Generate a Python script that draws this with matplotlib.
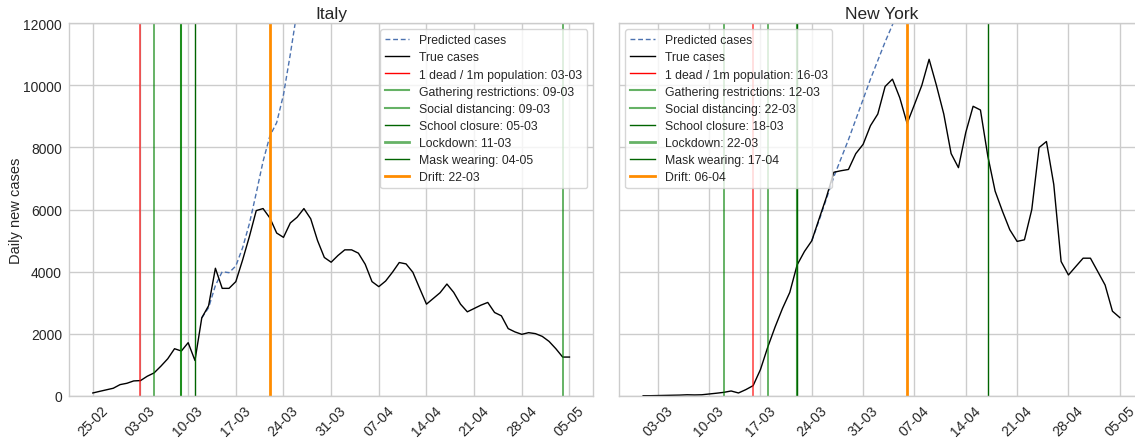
import numpy as np
import pandas as pd
import matplotlib
matplotlib.use("Agg")
import matplotlib.pyplot as plt
import matplotlib.dates as mdates
from matplotlib.lines import Line2D

plt.rcParams['font.family'] = ['Liberation Sans', 'DejaVu Sans']

# ---------------- data ----------------
italy_start = "2020-02-25"
italy_true = [88, 140, 190, 240, 357, 400, 476, 487, 628, 735, 953, 1190, 1514, 1440,
              1708, 1135, 2509, 2898, 4107, 3459, 3459, 3676, 4376, 5134, 5965, 6030,
              5728, 5242, 5102, 5566, 5750, 6030, 5700, 5000, 4454, 4301, 4518, 4700,
              4700, 4593, 4236, 3676, 3514, 3695, 3977, 4291, 4247, 3977, 3459, 2950,
              3134, 3319, 3598, 3329, 2950, 2703, 2810, 2918, 3005, 2681, 2574, 2162,
              2055, 1977, 2032, 2000, 1912, 1750, 1514, 1245, 1245]
italy_pred_start = "2020-03-12"
italy_pred = [2509, 2836, 3550, 3996, 3964, 4180, 4770, 5550, 6530, 7550, 8369, 8800,
              9700, 11000, 12400]

ny_start = "2020-03-01"
ny_true = [0, 0, 5, 10, 15, 20, 30, 25, 30, 55, 80, 108, 152, 88, 195, 324, 843, 1569,
           2217, 2810, 3329, 4214, 4648, 4992, 5700, 6400, 7200, 7250, 7290, 7800, 8100,
           8700, 9076, 9964, 10200, 9600, 8775, 9381, 9997, 10840, 9997, 9076, 7802,
           7348, 8483, 9326, 9206, 7727, 6593, 5945, 5348, 4972, 5024, 5997, 7997, 8191,
           6807, 4324, 3890, 4162, 4431, 4431, 4000, 3566, 2723, 2518]
ny_pred_start = "2020-03-24"
ny_pred = [4992, 5650, 6350, 7050, 7650, 8250, 8900, 9550, 10200, 10800, 11400, 11950, 12600]

measures = ["1 dead / 1m population", "Gathering restrictions", "Social distancing",
            "School closure", "Lockdown", "Mask wearing", "Drift"]
italy_dates = ["03-03", "09-03", "09-03", "05-03", "11-03", "04-05", "22-03"]
ny_dates = ["16-03", "12-03", "22-03", "18-03", "22-03", "17-04", "06-04"]

tick_start = "2020-02-25"
tick_end = "2020-05-05"

# legend styles (color, alpha, lw)
legend_styles = [("red", 1.0, 1.0), ("green", 0.6, 1.5), ("green", 0.6, 1.5),
                 ("darkgreen", 1.0, 1.0), ("green", 0.6, 2.0), ("darkgreen", 1.0, 1.0),
                 ("darkorange", 1.0, 2.0)]
# drawn styles per panel (color, alpha, lw)
italy_line_styles = [("red", 0.7, 1.2), ("green", 0.7, 1.2), ("green", 0.7, 1.5),
                     ("green", 0.7, 1.2), ("darkgreen", 1.0, 1.0), ("green", 0.7, 1.2),
                     ("darkorange", 1.0, 2.0)]
ny_line_styles = [("red", 0.7, 1.2), ("green", 0.7, 1.2), ("green", 0.7, 1.5),
                  ("green", 0.7, 1.2), ("darkgreen", 1.0, 1.0), ("darkgreen", 1.0, 1.0),
                  ("darkorange", 1.0, 2.0)]

GRID = "#cccccc"
TXT = "#262626"
PRED_C = "#4c72b0"


def to_date(s):
    d, m = s.split("-")
    return pd.Timestamp(2020, int(m), int(d))


fig = plt.figure(figsize=(11.35, 4.39), dpi=100)
ax1 = fig.add_axes([69 / 1135, 42.3 / 439, 524.3 / 1135, 372.4 / 439])
ax2 = fig.add_axes([619.3 / 1135, 42.3 / 439, 524.3 / 1135, 372.4 / 439], sharey=ax1)

ticks = pd.date_range(tick_start, tick_end, freq="7D")


def panel(ax, title, start, true, pstart, pred, dates, styles, legloc):
    x = pd.date_range(start, periods=len(true), freq="D")
    xp = pd.date_range(pstart, periods=len(pred), freq="D")
    for sp in ax.spines.values():
        sp.set_color(GRID)
        sp.set_linewidth(1.0)
    ax.set_facecolor("white")
    ax.grid(True, color=GRID, linewidth=1.0)
    ax.set_axisbelow(True)
    ax.plot(xp, pred, color=PRED_C, lw=1.0, ls=(0, (3.5, 2)))
    ax.plot(x, true, color="black", lw=1.0)
    for dstr, (c, a, lw) in zip(dates, styles):
        ax.axvline(to_date(dstr), color=c, alpha=a, lw=lw)
    ax.set_xticks(ticks)
    ax.xaxis.set_major_formatter(mdates.DateFormatter("%d-%m"))
    span = (x[-1] - x[0]).days
    ax.set_xlim(x[0] - pd.Timedelta(days=0.05 * span), x[-1] + pd.Timedelta(days=0.05 * span))
    ax.set_ylim(0, 12000)
    ax.tick_params(axis="both", length=0, labelsize=10, colors=TXT, pad=5)
    for lab in ax.get_xticklabels():
        lab.set_rotation(45)
        lab.set_ha("center")
    ax.set_title(title, fontsize=12.5, color=TXT, pad=4)

    handles = [Line2D([], [], color=PRED_C, lw=1.0, ls=(0, (3.5, 2))),
               Line2D([], [], color="black", lw=1.0)]
    labels = ["Predicted cases", "True cases"]
    for m, dstr, (c, a, lw) in zip(measures, dates, legend_styles):
        handles.append(Line2D([], [], color=c, alpha=a, lw=lw))
        labels.append(f"{m}: {dstr}")
    leg = ax.legend(handles, labels, loc=legloc, fontsize=8.8, frameon=True,
                    framealpha=0.8, edgecolor=GRID, fancybox=True,
                    labelspacing=0.42, borderpad=0.4, handletextpad=0.8)
    for t in leg.get_texts():
        t.set_color(TXT)


panel(ax1, "Italy", italy_start, italy_true, italy_pred_start, italy_pred,
      italy_dates, italy_line_styles, "upper right")
panel(ax2, "New York", ny_start, ny_true, ny_pred_start, ny_pred,
      ny_dates, ny_line_styles, "upper left")

ax1.set_yticks(np.arange(0, 12001, 2000))
ax1.set_ylabel("Daily new cases", fontsize=10.5, color=TXT, labelpad=0)
plt.setp(ax2.get_yticklabels(), visible=False)

fig.savefig("out.png", dpi=100)
